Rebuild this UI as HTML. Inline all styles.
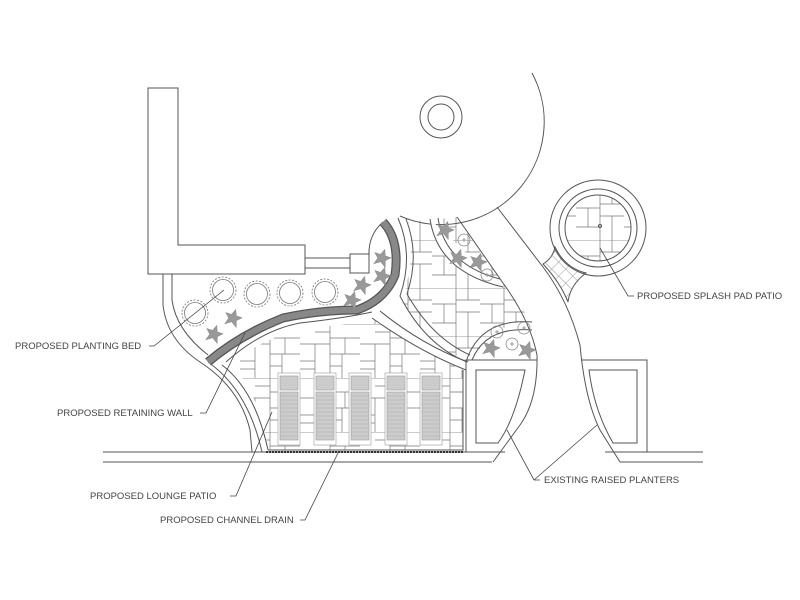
<!DOCTYPE html>
<html><head><meta charset="utf-8"><style>
html,body{margin:0;padding:0;background:#fff;}
svg{display:block}
text{font-family:"Liberation Sans",sans-serif;font-size:9.5px;fill:#444;}
</style></head><body>
<svg width="800" height="600" viewBox="0 0 800 600" xmlns="http://www.w3.org/2000/svg">
<defs>
<pattern id="tiles" width="60" height="54" patternUnits="userSpaceOnUse">
<path d="M0,0H60 M0,20H30 M30,14H60 M0,37H15 M30,30H60 M15,20V54 M30,0V54 M45,14V30 M42,30V54 M0,45H15 M30,42H42 M15,8H30 M45,30H60" stroke="#777" stroke-width="0.7" fill="none"/>
</pattern>
<pattern id="tiles2" width="48" height="48" patternUnits="userSpaceOnUse">
<path d="M0,0H48 M0,16H24 M24,24H48 M0,35H24 M24,0V48 M12,16V35 M36,24V48 M36,0V12 M24,12H48" stroke="#777" stroke-width="0.7" fill="none"/>
</pattern>
<pattern id="diam" width="10" height="10" patternUnits="userSpaceOnUse" patternTransform="rotate(45)">
<path d="M0,0H10M0,0V10" stroke="#777" stroke-width="0.7"/>
</pattern>
<clipPath id="lp"><path d="M232,364 Q262,338 300,330 Q345,324 374,320 Q420,350 463,370 V450 H268 Q262,400 232,364 Z"/></clipPath>
<clipPath id="up"><path d="M408,222 L457,217 L503,283 L532,322 Q500,318 470,362 Q425,345 402,300 Q416,260 408,222 Z"/></clipPath>
<clipPath id="sp"><circle cx="598" cy="228" r="33"/></clipPath>
<g id="star" fill="#999" stroke="#888" stroke-width="0.5">
<path d="M0,-9 L2.5,-3 L8.5,-3 L4,1.5 L6,8 L0,4 L-6,8 L-4,1.5 L-8.5,-3 L-2.5,-3Z" transform="rotate(18)"/>
</g>
<g id="shrub" fill="none" stroke="#777" stroke-width="0.8">
<circle r="13" stroke-dasharray="2 1.5"/><circle r="10.5"/>
</g>
<g id="pc" fill="none" stroke="#888" stroke-width="0.8"><circle r="6"/><path d="M-2,0h4M0,-2v4"/></g>
<g id="lounger" fill="#ccc" stroke="#999" stroke-width="0.6">
<rect x="-2" y="0" width="22" height="72" fill="#fff"/>
<rect x="0" y="3" width="18" height="14"/>
<rect x="0" y="19" width="18" height="48"/>
<path d="M0,23h18M0,27h18M0,31h18M0,35h18M0,39h18M0,43h18M0,47h18M0,51h18M0,55h18M0,59h18M0,63h18" stroke="#aaa"/>
</g>
</defs>
<!-- tiles -->
<rect x="220" y="310" width="250" height="145" fill="url(#tiles)" clip-path="url(#lp)"/>
<rect x="395" y="210" width="140" height="165" fill="url(#tiles2)" clip-path="url(#up)"/>
<rect x="560" y="190" width="80" height="80" fill="url(#tiles2)" clip-path="url(#sp)"/>
<path d="M543,264 Q553,258 555,247 Q565,268 586,273 Q570,285 568,302 Q560,282 543,264 Z" fill="url(#diam)" stroke="#555"/>
<g fill="none" stroke="#555" stroke-width="1">
<!-- building L -->
<path d="M148,88 H178 V245 H305 V274 H148 Z"/>
<path d="M305,258 H350 M305,268 H350"/>
<rect x="350" y="254" width="19" height="19"/>
<path d="M383,222 Q368,235 369,256"/>
<!-- big circle -->
<path d="M532,73 A103,103 0 0 1 400,216"/>
<circle cx="441" cy="117" r="21"/><circle cx="441" cy="117" r="13"/>
<!-- outer boundary left -->
<path d="M163,274 V305 Q167,340 200,362 Q240,388 250,430 L252,452"/>
<path d="M172,274 V300 Q176,330 208,355"/>
<path d="M208,362 Q248,390 262,452"/>
<path d="M222,365 Q255,390 268,450"/>
<!-- bottom lines -->
<path d="M103,452 H505 M103,462 H492 M605,452 H703 M620,462 H703"/>
<!-- patio boundary -->
<path d="M226,362 Q262,330 300,323 Q345,318 372,312"/>
<path d="M268,450 H463 V370"/>
<!-- wall ring lines -->
<path d="M398,218 Q414,255 400,296 Q425,345 467,362"/>
<path d="M406,219 Q420,255 407,294 Q432,338 470,355"/>
<path d="M372,318 Q420,352 466,370"/>
<path d="M380,311 Q422,345 468,362"/>
<!-- star bed -->
<path d="M430,219 Q438,272 503,287" fill="#fff"/>
<path d="M438,218 Q445,265 500,279"/>
<path d="M466,362 Q480,318 532,322"/>
<path d="M472,360 Q486,326 532,330"/>
<!-- walkway -->
<path d="M457,217 L503,283 Q530,320 537,355 Q538,400 520,425 L493,462"/>
<path d="M497,207 L543,267 Q568,300 580,345 Q585,400 600,430 L620,462"/>
<!-- splash pad -->
<circle cx="598" cy="228" r="48"/><circle cx="598" cy="228" r="39"/><circle cx="598" cy="228" r="33"/>
<circle cx="600" cy="226" r="1.5"/>
<!-- planters -->
<path d="M466,360 H537"/>
<path d="M466,360 V452"/>
<path d="M476,370 H525 Q515,420 498,443 H476 Z"/>
<path d="M581,360 H647 V452"/>
<path d="M589,370 H637 V443 H613 Q594,410 589,370 Z"/>
</g>
<!-- retaining wall -->
<path d="M208,362 Q240,335 283,318 Q320,310 357,310 Q385,300 395,275 Q400,240 383,222" fill="none" stroke="#555" stroke-width="9"/>
<path d="M208,362 Q240,335 283,318 Q320,310 357,310 Q385,300 395,275 Q400,240 383,222" fill="none" stroke="#888" stroke-width="6.5"/>
<!-- shrubs and stars -->
<use href="#shrub" x="195" y="313"/><use href="#shrub" x="223" y="290"/><use href="#shrub" x="257" y="294"/>
<use href="#shrub" x="290" y="293"/><use href="#shrub" x="325" y="292"/>
<use href="#star" x="214" y="334"/><use href="#star" x="233" y="318"/><use href="#star" x="352" y="300"/>
<use href="#star" x="362" y="285"/><use href="#star" x="382" y="258"/><use href="#star" x="382" y="276"/>
<use href="#star" x="445" y="230"/><use href="#star" x="458" y="258"/><use href="#star" x="478" y="262"/>
<use href="#star" x="491" y="348"/><use href="#star" x="527" y="350"/>
<use href="#pc" x="464" y="240"/><use href="#pc" x="487" y="275"/>
<use href="#pc" x="497" y="332"/><use href="#pc" x="512" y="344"/><use href="#pc" x="524" y="328"/>
<!-- loungers -->
<use href="#lounger" x="280" y="373"/><use href="#lounger" x="316" y="373"/><use href="#lounger" x="351" y="373"/>
<use href="#lounger" x="387" y="373"/><use href="#lounger" x="422" y="373"/>
<!-- channel drain -->
<path d="M266,452 H464" stroke="#333" stroke-width="2" stroke-dasharray="2 1"/>
<!-- leaders -->
<g stroke="#444" stroke-width="0.8" fill="none">
<path d="M149,346 H154 L224,290"/>
<path d="M200,413 H206 L245,333"/>
<path d="M230,496 H236 L272,412"/>
<path d="M300,520 H305 L338,453"/>
<path d="M540,480 H534 L507,430 M534,480 L597,425"/>
<path d="M634,296 H628 L600,248"/>
</g>
<text x="15" y="349">PROPOSED PLANTING BED</text>
<text x="57" y="416">PROPOSED RETAINING WALL</text>
<text x="90" y="499">PROPOSED LOUNGE PATIO</text>
<text x="160" y="523">PROPOSED CHANNEL DRAIN</text>
<text x="544" y="483">EXISTING RAISED PLANTERS</text>
<text x="637" y="299">PROPOSED SPLASH PAD PATIO</text>
</svg>
</body></html>
